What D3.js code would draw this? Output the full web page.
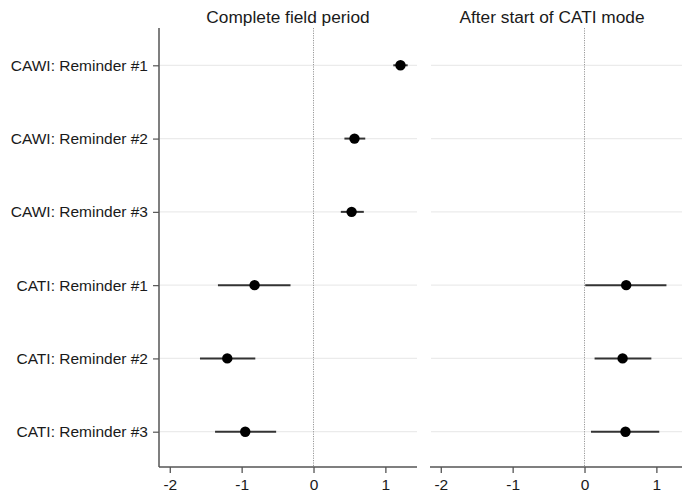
<!DOCTYPE html>
<html><head><meta charset="utf-8">
<script src="https://cdn.jsdelivr.net/npm/d3@7"></script>
<style>body{margin:0;background:#fff}svg{display:block}text{font-family:Arial,"Liberation Sans",sans-serif;fill:#1a1a1a}</style>
</head><body><svg id="c" width="682" height="497"></svg>
<script>
const categories = ["CAWI: Reminder #1","CAWI: Reminder #2","CAWI: Reminder #3","CATI: Reminder #1","CATI: Reminder #2","CATI: Reminder #3"];
const panelTitles = ["Complete field period","After start of CATI mode"];
const xTicks = [-2,-1,0,1];
// panel 1: Complete field period
const p1Est = [1.21, 0.57, 0.53, -0.82, -1.20, -0.95];
const p1Lo  = [1.11, 0.43, 0.38, -1.33, -1.58, -1.37];
const p1Hi  = [1.31, 0.72, 0.70, -0.32, -0.81, -0.52];
// panel 2: After start of CATI mode
const p2Est = [null, null, null, 0.58, 0.53, 0.57];
const p2Lo  = [null, null, null, 0.01, 0.14, 0.09];
const p2Hi  = [null, null, null, 1.14, 0.93, 1.04];

const svg = d3.select("#c");
const plotTop = 28, plotBottom = 467;
const y = d3.scalePoint().domain(categories).range([65.3, 431.7]);
const panels = [
  {left:159, right:417, titleX:288, est:p1Est, lo:p1Lo, hi:p1Hi, yAxis:true},
  {left:430, right:688, titleX:552, est:p2Est, lo:p2Lo, hi:p2Hi, yAxis:false}
];
const FONT = "Arial, Liberation Sans, sans-serif";
panels.forEach((p,pi)=>{
  const x = d3.scaleLinear().domain([-2.15,1.44]).range([p.left,p.right]);
  const g = svg.append("g");
  g.selectAll("line.grid").data(categories).enter().append("line")
    .attr("x1",p.left+1).attr("x2",p.right).attr("y1",d=>y(d)).attr("y2",d=>y(d))
    .attr("stroke","#ebebeb").attr("stroke-width",1.2);
  g.append("line").attr("x1",x(0)).attr("x2",x(0)).attr("y1",plotTop).attr("y2",plotBottom)
    .attr("stroke","#999").attr("stroke-width",1).attr("stroke-dasharray","1.2,1.2");
  const xa = g.append("g").attr("transform",`translate(0,${plotBottom})`)
    .call(d3.axisBottom(x).tickValues(xTicks).tickSize(6).tickPadding(6).tickFormat(d=>String(d)));
  xa.select(".domain").attr("stroke","#555").attr("stroke-width",1.5).attr("d",`M${p.left},0H${p.right}`);
  xa.selectAll(".tick line").attr("stroke","#555").attr("stroke-width",1.3);
  xa.selectAll(".tick text").attr("font-size",15.5).attr("fill","#1a1a1a").attr("font-family",FONT);
  if(p.yAxis){
    const ya = g.append("g").attr("transform",`translate(${p.left},0)`)
      .call(d3.axisLeft(y).tickSize(6).tickPadding(5));
    ya.select(".domain").attr("stroke","#555").attr("stroke-width",1.5).attr("d",`M0,${plotTop}V${plotBottom}`);
    ya.selectAll(".tick line").attr("stroke","#555").attr("stroke-width",1.2);
    ya.selectAll(".tick text").attr("font-size",15.5).attr("fill","#1a1a1a").attr("font-family",FONT);
  }
  svg.append("text").attr("x",p.titleX).attr("y",22.5).attr("text-anchor","middle")
    .attr("font-size",17.3).attr("font-family",FONT).text(panelTitles[pi]);
  const data = categories.map((c,i)=>({c, e:p.est[i], lo:p.lo[i], hi:p.hi[i]})).filter(d=>d.e!==null);
  g.selectAll("line.ci").data(data).enter().append("line")
    .attr("x1",d=>x(d.lo)).attr("x2",d=>x(d.hi)).attr("y1",d=>y(d.c)).attr("y2",d=>y(d.c))
    .attr("stroke","#333").attr("stroke-width",2);
  g.selectAll("circle").data(data).enter().append("circle")
    .attr("cx",d=>x(d.e)).attr("cy",d=>y(d.c)).attr("r",5.2).attr("fill","#000");
});
</script></body></html>
